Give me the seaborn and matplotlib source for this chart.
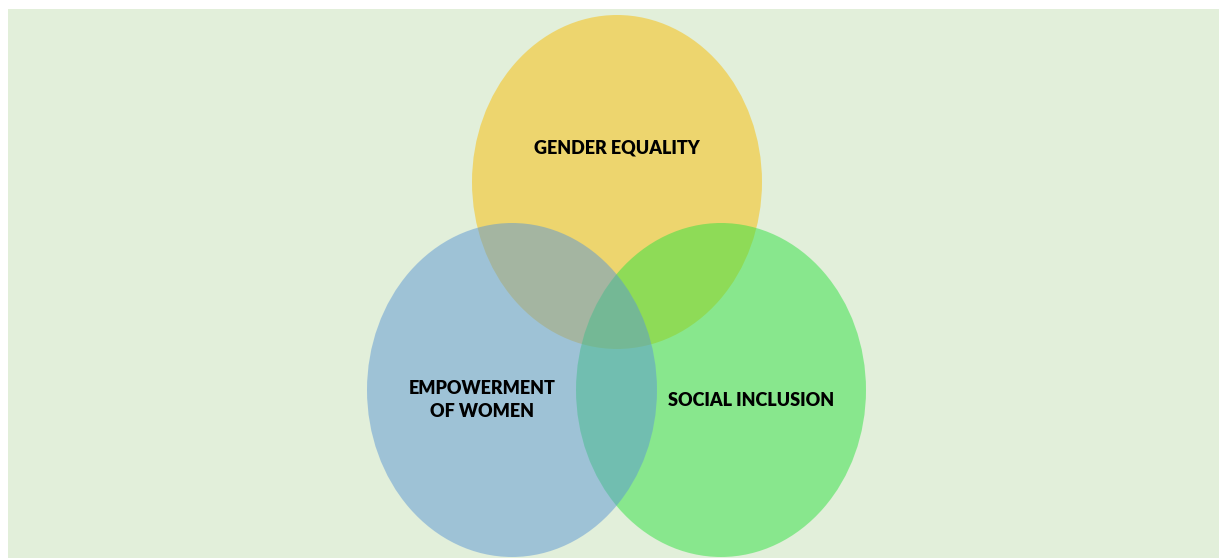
import numpy as np
import matplotlib
matplotlib.use("Agg")
import matplotlib.pyplot as plt
import seaborn as sns
from matplotlib.patches import Ellipse, Rectangle

# =========================
# Data (pixel space of the original slide)
# =========================

labels = ["GENDER EQUALITY", "SOCIAL INCLUSION", "EMPOWERMENT\nOF WOMEN"]
center_x = [617, 721, 512]
center_y = [182, 390, 390]
width = [290, 290, 290]
height = [334, 334, 334]
colors = ["#F8BD04", "#30E142", "#5C97D4"]
label_x = [617, 751, 482]
label_y = [148, 401, 400]

# =========================
# Figure
# =========================

sns.set_theme(style="white")
plt.rcParams['font.family'] = ['Lato', 'DejaVu Sans']

fig = plt.figure(figsize=(12.19, 5.58), dpi=100)
ax = fig.add_axes([0, 0, 1, 1])
ax.set_xlim(0, 1219)
ax.set_ylim(558, 0)
ax.axis("off")

# background panel
ax.add_patch(Rectangle((8, 9), 1219 - 8, 558 - 9, facecolor="#E2EFDA", edgecolor="none", zorder=0))

for i in range(len(labels)):
    ax.add_patch(Ellipse((center_x[i], center_y[i]), width[i], height[i],
                         facecolor=colors[i], alpha=0.5, edgecolor="none", zorder=1 + i))

for i in range(len(labels)):
    ax.text(label_x[i], label_y[i], labels[i], ha="center", va="center",
            fontsize=13, fontweight="heavy", color="black", linespacing=1.45, zorder=10)

plt.savefig("out.png", dpi=100)
